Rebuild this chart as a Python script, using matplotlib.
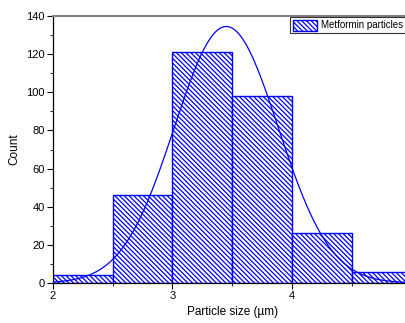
import numpy as np
import matplotlib
matplotlib.use("Agg")
import matplotlib.pyplot as plt
from matplotlib.ticker import MultipleLocator, FixedLocator

plt.rcParams['font.family'] = ['Liberation Sans', 'DejaVu Sans']
plt.rcParams['hatch.color'] = '#0000ff'
plt.rcParams['hatch.linewidth'] = 0.9

bin_edges = [2.0, 2.5, 3.0, 3.5, 4.0, 4.5, 5.0]
counts = [4, 46, 121, 98, 26, 6]
fit_mu = 3.45
fit_sigma = 0.435
fit_peak = 134.5
x_ticks = [2, 3, 4]
legend_label = "Metformin particles"

fig = plt.figure(figsize=(4.06, 3.23), dpi=100)
ax = fig.add_axes([53/406, 1-283/323, (5.0-2.0)*119.5/406, (283-16)/323])

lefts = bin_edges[:-1]
widths = np.diff(bin_edges)
ax.bar(lefts, counts, width=widths, align='edge', facecolor='white',
       edgecolor='#0000ff', hatch='\\\\\\\\\\\\\\', linewidth=1.0,
       label=legend_label, zorder=2)

xs = np.linspace(bin_edges[0], bin_edges[-1], 400)
ys = fit_peak * np.exp(-(xs - fit_mu) ** 2 / (2 * fit_sigma ** 2))
ax.plot(xs, ys, color='#0000ff', linewidth=0.9, zorder=3)

ax.set_xlim(2, 5)
ax.set_ylim(0, 140)
ax.xaxis.set_major_locator(FixedLocator(x_ticks))
ax.xaxis.set_minor_locator(FixedLocator([2.5, 3.5, 4.5]))
ax.yaxis.set_major_locator(MultipleLocator(20))
ax.yaxis.set_minor_locator(MultipleLocator(10))
ax.tick_params(axis='both', which='major', direction='out', length=4, width=0.8,
               labelsize=8, pad=2)
ax.tick_params(axis='both', which='minor', direction='out', length=2, width=0.6)
ax.spines['top'].set_color('#808080')
ax.spines['top'].set_linewidth(1.5)
ax.spines['right'].set_visible(False)
ax.spines['left'].set_linewidth(0.9)
ax.spines['bottom'].set_linewidth(0.9)

ax.set_xlabel('Particle size (µm)', fontsize=8.5, labelpad=3)
ax.set_ylabel('Count', fontsize=8.5, labelpad=4)

leg = ax.legend(loc='upper left', bbox_to_anchor=((290-53)/(3*119.5), 1.0 - 1/267),
                fontsize=7, frameon=True, fancybox=False, edgecolor='black',
                borderpad=0.3, handlelength=2.5, handleheight=1.3,
                handletextpad=0.4, borderaxespad=0)
leg.get_frame().set_linewidth(0.8)

fig.savefig('out.png', dpi=100)
